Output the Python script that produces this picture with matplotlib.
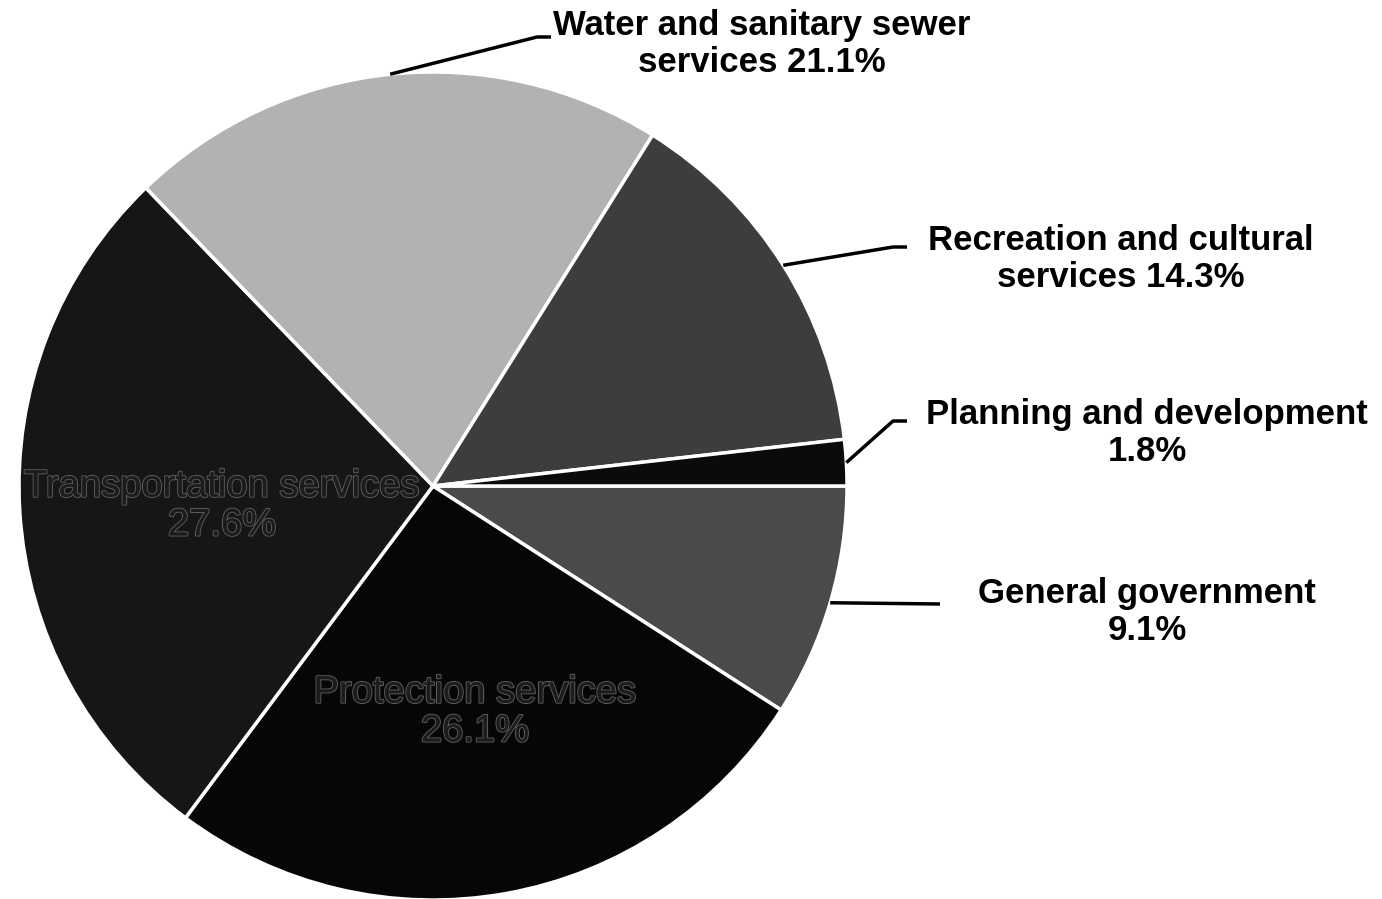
import numpy as np
import matplotlib.pyplot as plt
import matplotlib.patheffects as pe

# slices, clockwise from 3 o'clock
categories = ['General government', 'Protection services', 'Transportation services',
              'Water and sanitary sewer services', 'Recreation and cultural services',
              'Planning and development']
shares = [9.1, 26.1, 27.6, 21.1, 14.3, 1.8]
colors = ['#4a4a4a', '#060606', '#161616', '#b2b2b2', '#3d3d3d', '#0b0b0b']

# label text for outside labels
outside_text = {
    'General government': 'General government\n9.1%',
    'Water and sanitary sewer services': 'Water and sanitary sewer\nservices 21.1%',
    'Recreation and cultural services': 'Recreation and cultural\nservices 14.3%',
    'Planning and development': 'Planning and development\n1.8%',
}
inside_text = {
    'Transportation services': 'Transportation services\n27.6%',
    'Protection services': 'Protection services\n26.1%',
}

W, H = 1382, 899
fig = plt.figure(figsize=(W / 100, H / 100), dpi=100)
ax = fig.add_axes([0, 0, 1, 1])

cx, cy, r = 433, H - 486, 414
wedges, _ = ax.pie(shares, colors=colors, startangle=0, counterclock=False,
                   center=(cx, cy), radius=r, frame=True,
                   wedgeprops=dict(edgecolor='white', linewidth=2.5))
ax.set_xlim(0, W)
ax.set_ylim(0, H)
ax.axis('off')

# layout for outside labels: elbow point, text centre (pixel coords, y from top)
layout = {
    'Water and sanitary sewer services': ((537, 37), (762, 44)),
    'Recreation and cultural services': ((893, 247), (1121, 259)),
    'Planning and development': ((893, 421), (1147, 433)),
    'General government': ((940, 604), (1147, 612)),
}

font = 'Liberation Sans'
for w, name in zip(wedges, categories):
    mid = np.deg2rad((w.theta1 + w.theta2) / 2)
    ex, ey = cx + r * np.cos(mid), cy + r * np.sin(mid)
    if name in outside_text:
        (bx, by), (tx, ty) = layout[name]
        if name == 'General government':
            pts = [(ex, ey), (bx, H - by)]
        else:
            pts = [(ex, ey), (bx, H - by), (bx + 14, H - by)]
        xs, ys = zip(*pts)
        ax.plot(xs, ys, color='black', lw=2.5, solid_capstyle='butt')
        ax.text(tx, H - ty, outside_text[name], ha='center', va='center',
                fontsize=25, fontweight='bold', family=font,
                linespacing=1.12, color='black')
    else:
        pos = {'Transportation services': (222, 506),
               'Protection services': (475, 712)}[name]
        ax.text(pos[0], H - pos[1], inside_text[name], ha='center', va='center',
                fontsize=27.5, family=font, color='#1c1c1c', linespacing=1.1,
                path_effects=[pe.withStroke(linewidth=1.6, foreground='#5a5a5a'),
                              pe.Normal()])

fig.savefig('out.png', dpi=100, facecolor='white')
